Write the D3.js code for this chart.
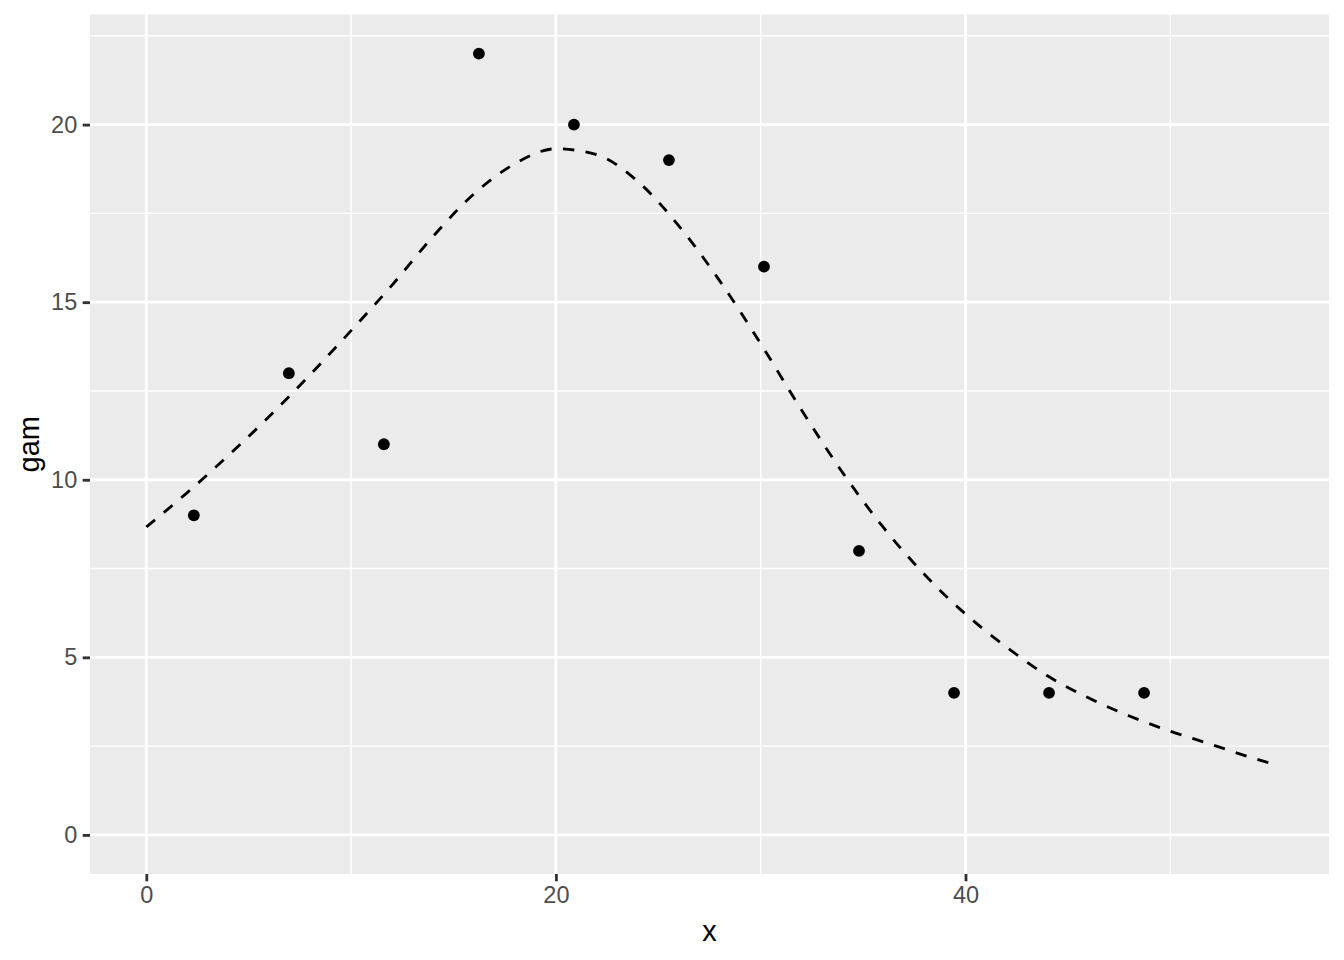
<!DOCTYPE html>
<html>
<head>
<meta charset="utf-8">
<script src="https://cdn.jsdelivr.net/npm/d3@7"></script>
<style>
  html, body { margin: 0; padding: 0; background: #ffffff; }
  svg { display: block; }
</style>
</head>
<body>
<svg id="chart" width="1344" height="960"></svg>
<script>
// Observed points
const pointX = [2.32, 6.96, 11.60, 16.24, 20.88, 25.52, 30.16, 34.80, 39.44, 44.08, 48.72];
const pointY = [9, 13, 11, 22, 20, 19, 16, 8, 4, 4, 4];

// Fitted curve
const curveX = [0, 2, 4, 6, 8, 10, 12, 14, 16, 18, 20, 22, 24, 26, 28, 30, 32, 34, 36, 38, 40, 42, 44, 46, 48, 50, 52, 54, 55];
const curveY = [8.67, 9.64, 10.68, 11.78, 12.96, 14.2, 15.48, 16.85, 18.05, 18.9, 19.32, 19.15, 18.4, 17.15, 15.6, 13.83, 11.96, 10.2, 8.65, 7.33, 6.22, 5.29, 4.48, 3.86, 3.35, 2.92, 2.55, 2.17, 2.0];

// Axis ticks and limits
const yLimits = [0];
const xMajor = [0, 20, 40];
const xMinor = [10, 30, 50];
const yMajor = [0, 5, 10, 15, 20];
const yMinor = [2.5, 7.5, 12.5, 17.5, 22.5];
const xTitle = "x";
const yTitle = "gam";

const svg = d3.select("#chart");
const panel = { left: 90, right: 1329, top: 14.5, bottom: 874 };

function expand(ext) {
  const pad = (ext[1] - ext[0]) * 0.05;
  return [ext[0] - pad, ext[1] + pad];
}
const xExt = d3.extent(curveX.concat(pointX));
const yExt = d3.extent(curveY.concat(pointY, yLimits));

const x = d3.scaleLinear().domain(expand(xExt)).range([panel.left, panel.right]);
const y = d3.scaleLinear().domain(expand(yExt)).range([panel.bottom, panel.top]);

// panel background
svg.append("rect")
  .attr("x", panel.left).attr("y", panel.top)
  .attr("width", panel.right - panel.left).attr("height", panel.bottom - panel.top)
  .attr("fill", "#EBEBEB");

const grid = svg.append("g");
// minor grid
grid.selectAll("line.xmin").data(xMinor).join("line")
  .attr("x1", d => x(d)).attr("x2", d => x(d))
  .attr("y1", panel.top).attr("y2", panel.bottom)
  .attr("stroke", "#ffffff").attr("stroke-width", 1.42);
grid.selectAll("line.ymin").data(yMinor).join("line")
  .attr("y1", d => y(d)).attr("y2", d => y(d))
  .attr("x1", panel.left).attr("x2", panel.right)
  .attr("stroke", "#ffffff").attr("stroke-width", 1.42);
// major grid
grid.selectAll("line.xmaj").data(xMajor).join("line")
  .attr("x1", d => x(d)).attr("x2", d => x(d))
  .attr("y1", panel.top).attr("y2", panel.bottom)
  .attr("stroke", "#ffffff").attr("stroke-width", 2.84);
grid.selectAll("line.ymaj").data(yMajor).join("line")
  .attr("y1", d => y(d)).attr("y2", d => y(d))
  .attr("x1", panel.left).attr("x2", panel.right)
  .attr("stroke", "#ffffff").attr("stroke-width", 2.84);

// curve
const curveData = curveX.map((d, i) => [d, curveY[i]]);
const line = d3.line().x(d => x(d[0])).y(d => y(d[1])).curve(d3.curveMonotoneX);
svg.append("path")
  .datum(curveData)
  .attr("d", line)
  .attr("fill", "none")
  .attr("stroke", "#000000")
  .attr("stroke-width", 2.84)
  .attr("stroke-dasharray", "11.4,11.4");

// points
const pts = pointX.map((d, i) => [d, pointY[i]]);
svg.selectAll("circle.pt").data(pts).join("circle")
  .attr("cx", d => x(d[0])).attr("cy", d => y(d[1]))
  .attr("r", 5.9).attr("fill", "#000000");

// axes
const font = "'Liberation Sans', Arial, Helvetica, sans-serif";
const xAxis = d3.axisBottom(x).tickValues(xMajor).tickSize(7.3).tickPadding(5.5).tickFormat(d3.format("d"));
const yAxis = d3.axisLeft(y).tickValues(yMajor).tickSize(7.3).tickPadding(5.5).tickFormat(d3.format("d"));

const gx = svg.append("g").attr("transform", `translate(0,${panel.bottom})`).call(xAxis);
const gy = svg.append("g").attr("transform", `translate(${panel.left},0)`).call(yAxis);
[gx, gy].forEach(g => {
  g.select(".domain").remove();
  g.selectAll(".tick line").attr("stroke", "#333333").attr("stroke-width", 2.84);
  g.selectAll(".tick text").attr("fill", "#4D4D4D").style("font-family", font).style("font-size", "23.5px");
});
gx.selectAll(".tick text").attr("dy", "0.71em");

svg.append("text")
  .attr("x", (panel.left + panel.right) / 2).attr("y", 941)
  .attr("text-anchor", "middle")
  .style("font-family", font).style("font-size", "29px").attr("fill", "#000000")
  .text(xTitle);

svg.append("text")
  .attr("transform", `translate(39,${(panel.top + panel.bottom) / 2}) rotate(-90)`)
  .attr("text-anchor", "middle")
  .style("font-family", font).style("font-size", "29px").attr("fill", "#000000")
  .text(yTitle);
</script>
</body>
</html>
